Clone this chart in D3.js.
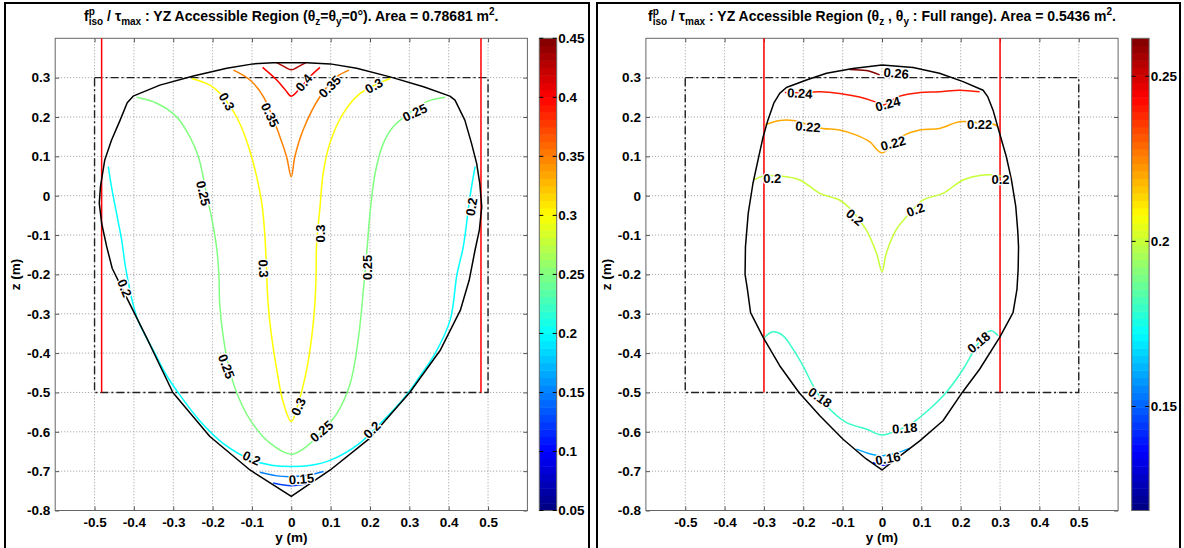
<!DOCTYPE html>
<html><head><meta charset="utf-8">
<script src="https://cdn.jsdelivr.net/npm/d3@7"></script>
<style>
body{margin:0;background:#fff;}
svg{display:block;}
text{font-family:"Liberation Sans",Arial,sans-serif;font-weight:bold;fill:#000;}
</style>
</head><body><svg id="c" width="1184" height="548"></svg>
<script>
// ---------- data ----------
const xTicks = [-0.5,-0.4,-0.3,-0.2,-0.1,0,0.1,0.2,0.3,0.4,0.5];
const yTicks = [-0.8,-0.7,-0.6,-0.5,-0.4,-0.3,-0.2,-0.1,0,0.1,0.2,0.3];
const workY = [-0.5,0.5];
const workZ = [-0.5,0.3];

const leftTitle = [["f","n"],["p","sup"],["iso","sub2"],[" / τ","n"],["max","sub"],[" : YZ Accessible Region (θ","n"],["z","sub"],["=θ","n"],["y","sub"],["=0°). Area = 0.78681 m","n"],["2","sup"],[".","n"]];
const rightTitle = [["f","n"],["p","sup"],["iso","sub2"],[" / τ","n"],["max","sub"],[" : YZ Accessible Region (θ","n"],["z","sub"],[" , θ","n"],["y","sub"],[" : Full range). Area = 0.5436 m","n"],["2","sup"],[".","n"]];

const leftCRange = [0.05,0.45];
const leftCTicks = [0.05,0.1,0.15,0.2,0.25,0.3,0.35,0.4,0.45];
const rightCRange = [0.1185,0.2615];
const rightCTicks = [0.15,0.2,0.25];

const leftRedY = [-0.482,0.482];
const rightRedY = [-0.3,0.3];

const leftBoundary = [[0,0.338],[-0.046,0.338],[-0.097,0.335],[-0.164,0.324],[-0.249,0.304],[-0.334,0.281],[-0.402,0.253],[-0.417,0.236],[-0.435,0.192],[-0.457,0.141],[-0.474,0.091],[-0.485,0.023],[-0.488,-0.019],[-0.482,-0.070],[-0.469,-0.130],[-0.455,-0.185],[-0.420,-0.256],[-0.369,-0.358],[-0.301,-0.5],[-0.207,-0.612],[-0.105,-0.697],[0,-0.764],[0.099,-0.697],[0.2,-0.616],[0.301,-0.5],[0.379,-0.392],[0.43,-0.290],[0.452,-0.215],[0.467,-0.138],[0.478,-0.087],[0.484,-0.028],[0.479,0.031],[0.471,0.082],[0.458,0.133],[0.441,0.192],[0.416,0.243],[0.403,0.253],[0.336,0.277],[0.251,0.302],[0.166,0.324],[0.099,0.335],[0.039,0.338],[0,0.338]];

const leftContours = [
 {level:0.43, pts:[[-0.037,0.338],[-0.018,0.328],[0,0.320],[0.018,0.328],[0.037,0.338]]},
 {level:0.40, pts:[[-0.073,0.326],[-0.037,0.294],[-0.016,0.270],[0,0.253],[0.022,0.273],[0.047,0.302],[0.073,0.326]]},
 {level:0.35, pts:[[-0.147,0.319],[-0.105,0.294],[-0.071,0.252],[-0.029,0.15],[-0.012,0.099],[0,0.048],[0.009,0.099],[0.03,0.167],[0.073,0.252],[0.115,0.302],[0.147,0.319]]},
 {level:0.30, pts:[[-0.253,0.298],[-0.207,0.281],[-0.177,0.256],[-0.139,0.2],[-0.114,0.141],[-0.092,0.065],[-0.075,-0.019],[-0.067,-0.104],[-0.063,-0.188],[-0.059,-0.273],[-0.050,-0.358],[-0.037,-0.442],[-0.020,-0.527],[0,-0.574],[0.018,-0.527],[0.039,-0.442],[0.052,-0.358],[0.060,-0.273],[0.063,-0.2],[0.064,-0.130],[0.073,-0.028],[0.081,0.057],[0.098,0.133],[0.132,0.209],[0.175,0.260],[0.251,0.298]]},
 {level:0.25, pts:[[-0.393,0.25],[-0.342,0.235],[-0.292,0.201],[-0.258,0.15],[-0.236,0.099],[-0.224,0.048],[-0.214,-0.005],[-0.203,-0.053],[-0.190,-0.130],[-0.184,-0.2],[-0.182,-0.273],[-0.173,-0.358],[-0.16,-0.43],[-0.139,-0.5],[-0.105,-0.569],[-0.054,-0.629],[0,-0.657],[0.039,-0.637],[0.116,-0.553],[0.150,-0.476],[0.171,-0.358],[0.184,-0.231],[0.193,-0.13],[0.2,-0.045],[0.213,0.057],[0.234,0.133],[0.259,0.175],[0.30,0.21],[0.344,0.239],[0.391,0.25]]},
 {level:0.20, pts:[[-0.465,0.074],[-0.457,0.023],[-0.444,-0.045],[-0.431,-0.113],[-0.42,-0.189],[-0.392,-0.31],[-0.347,-0.4],[-0.318,-0.455],[-0.288,-0.5],[-0.23,-0.575],[-0.17,-0.632],[-0.1,-0.672],[-0.05,-0.685],[0,-0.688],[0.05,-0.685],[0.1,-0.672],[0.17,-0.632],[0.23,-0.575],[0.29,-0.51],[0.326,-0.46],[0.366,-0.40],[0.404,-0.315],[0.421,-0.2],[0.437,-0.130],[0.454,-0.003],[0.467,0.074]]},
 {level:0.15, pts:[[-0.08,-0.703],[-0.037,-0.712],[0,-0.714],[0.048,-0.709],[0.082,-0.701]]},
 {level:0.125, pts:[[-0.046,-0.730],[0,-0.737],[0.048,-0.730]]}
];

const leftLabels = [
 {t:"0.4",y:0.032,z:0.287,a:-50},{t:"0.35",y:-0.054,z:0.205,a:65},{t:"0.35",y:0.098,z:0.277,a:-45},
 {t:"0.3",y:-0.164,z:0.239,a:60},{t:"0.3",y:0.21,z:0.279,a:-30},{t:"0.3",y:-0.071,z:-0.185,a:88},
 {t:"0.3",y:0.073,z:-0.096,a:-90},{t:"0.3",y:0.018,z:-0.536,a:-65},{t:"0.25",y:-0.224,z:0.006,a:78},
 {t:"0.25",y:0.314,z:0.211,a:-25},{t:"0.25",y:0.193,z:-0.182,a:-90},{t:"0.25",y:-0.165,z:-0.434,a:70},
 {t:"0.25",y:0.077,z:-0.599,a:-40},{t:"0.2",y:-0.424,z:-0.235,a:68},{t:"0.2",y:0.458,z:-0.028,a:-80},
 {t:"0.2",y:-0.101,z:-0.667,a:25},{t:"0.2",y:0.205,z:-0.595,a:-45},{t:"0.15",y:0.026,z:-0.72,a:-5}
];

const rightBoundary = [[0,0.332],[-0.074,0.323],[-0.141,0.311],[-0.192,0.294],[-0.243,0.275],[-0.260,0.260],[-0.275,0.235],[-0.290,0.192],[-0.302,0.150],[-0.315,0.091],[-0.328,0.031],[-0.340,-0.045],[-0.347,-0.130],[-0.348,-0.2],[-0.342,-0.238],[-0.334,-0.297],[-0.302,-0.360],[-0.260,-0.432],[-0.211,-0.5],[-0.158,-0.559],[-0.099,-0.619],[-0.040,-0.669],[0,-0.697],[0.036,-0.669],[0.096,-0.623],[0.155,-0.572],[0.204,-0.5],[0.248,-0.441],[0.299,-0.360],[0.333,-0.297],[0.343,-0.238],[0.346,-0.187],[0.347,-0.130],[0.345,-0.09],[0.340,-0.028],[0.329,0.040],[0.316,0.099],[0.299,0.158],[0.282,0.218],[0.269,0.251],[0.257,0.268],[0.206,0.290],[0.146,0.311],[0.079,0.326],[0,0.332]];

const rightContours = [
 {level:0.26, pts:[[-0.082,0.321],[-0.040,0.318],[-0.006,0.307]]},
 {level:0.24, pts:[[-0.247,0.262],[-0.209,0.262],[-0.158,0.264],[-0.108,0.260],[-0.057,0.251],[-0.019,0.239],[0,0.230],[0.045,0.253],[0.096,0.262],[0.146,0.264],[0.197,0.268],[0.248,0.264]]},
 {level:0.22, pts:[[-0.298,0.180],[-0.260,0.191],[-0.226,0.191],[-0.188,0.18],[-0.150,0.171],[-0.108,0.167],[-0.065,0.154],[-0.031,0.137],[0,0.109],[0.053,0.152],[0.096,0.167],[0.146,0.171],[0.197,0.188],[0.248,0.185],[0.282,0.182],[0.295,0.175]]},
 {level:0.20, pts:[[-0.326,0.040],[-0.302,0.050],[-0.260,0.050],[-0.209,0.040],[-0.158,0.006],[-0.108,-0.011],[-0.082,-0.032],[-0.040,-0.087],[-0.014,-0.146],[0,-0.193],[0.011,-0.146],[0.036,-0.087],[0.070,-0.045],[0.104,-0.011],[0.155,0.006],[0.206,0.040],[0.252,0.052],[0.30,0.05],[0.324,0.040]]},
 {level:0.18, pts:[[-0.298,-0.360],[-0.277,-0.346],[-0.251,-0.356],[-0.226,-0.390],[-0.201,-0.432],[-0.175,-0.483],[-0.141,-0.534],[-0.091,-0.576],[-0.040,-0.593],[0,-0.608],[0.04,-0.596],[0.079,-0.576],[0.121,-0.542],[0.163,-0.5],[0.206,-0.441],[0.231,-0.398],[0.261,-0.352],[0.278,-0.343],[0.295,-0.356]]},
 {level:0.16, pts:[[-0.065,-0.644],[-0.027,-0.657],[0,-0.661],[0.036,-0.654],[0.070,-0.642]]},
 {level:0.14, pts:[[-0.023,-0.678],[0,-0.685],[0.024,-0.678]]}
];

const rightLabels = [
 {t:"0.26",y:0.036,z:0.311,a:5},{t:"0.24",y:-0.209,z:0.260,a:3},{t:"0.24",y:0.015,z:0.233,a:-15},
 {t:"0.22",y:-0.188,z:0.175,a:5},{t:"0.22",y:0.028,z:0.133,a:-15},{t:"0.22",y:0.248,z:0.180,a:0},
 {t:"0.2",y:-0.279,z:0.044,a:0},{t:"0.2",y:-0.069,z:-0.055,a:40},{t:"0.2",y:0.085,z:-0.036,a:-20},
 {t:"0.2",y:0.301,z:0.042,a:0},{t:"0.18",y:-0.158,z:-0.513,a:35},{t:"0.18",y:0.058,z:-0.591,a:-5},
 {t:"0.18",y:0.246,z:-0.373,a:-40},{t:"0.16",y:0.015,z:-0.668,a:-10}
];

// ---------- drawing ----------
function jet(t){
  const c = v => Math.max(0, Math.min(1, v));
  const r = c(1.5 - Math.abs(4*t - 3)), g = c(1.5 - Math.abs(4*t - 2)), b = c(1.5 - Math.abs(4*t - 1));
  return d3.rgb(r*255, g*255, b*255).toString();
}
const fmt = d => String(Math.round(d*100)/100);
const svg = d3.select("#c");
const FS = 13.5;

function panel(cfg){
  const g = svg.append("g");
  g.append("rect").attr("x", cfg.frame[0]).attr("y", 3).attr("width", cfg.frame[1]-cfg.frame[0]).attr("height", 560)
    .attr("fill","none").attr("stroke","#000").attr("stroke-width",2);
  const x = d3.scaleLinear().domain([-0.6,0.6]).range([cfg.left, cfg.left+472.2]);
  const y = d3.scaleLinear().domain([-0.8,0.4]).range([510.5, 38.3]);
  const cnorm = d3.scaleLinear().domain(cfg.cRange).range([0,1]);
  const color = v => jet(cnorm(v));
  const [x0,x1] = x.range(), [y0,y1] = y.range();

  g.append("rect").attr("x",x0).attr("y",y1).attr("width",x1-x0).attr("height",y0-y1).attr("fill","#fff");
  g.append("g").selectAll("line").data(xTicks).join("line")
    .attr("x1",d=>x(d)).attr("x2",d=>x(d)).attr("y1",y1).attr("y2",y0)
    .attr("stroke","#9a9a9a").attr("stroke-width",1).attr("stroke-dasharray","1,2");
  g.append("g").selectAll("line").data(yTicks.filter(d=>d>-0.8)).join("line")
    .attr("y1",d=>y(d)).attr("y2",d=>y(d)).attr("x1",x0).attr("x2",x1)
    .attr("stroke","#9a9a9a").attr("stroke-width",1).attr("stroke-dasharray","1,2");

  const ax = g.append("g").attr("transform",`translate(0,${y0})`)
    .call(d3.axisBottom(x).tickValues(xTicks).tickFormat(fmt).tickSizeInner(-4).tickSizeOuter(0).tickPadding(7));
  const ay = g.append("g").attr("transform",`translate(${x0},0)`)
    .call(d3.axisLeft(y).tickValues(yTicks).tickFormat(fmt).tickSizeInner(-4).tickSizeOuter(0).tickPadding(5));
  const at = g.append("g").attr("transform",`translate(0,${y1})`)
    .call(d3.axisTop(x).tickValues(xTicks).tickFormat("").tickSizeInner(-4).tickSizeOuter(0));
  const ar = g.append("g").attr("transform",`translate(${x1},0)`)
    .call(d3.axisRight(y).tickValues(yTicks).tickFormat("").tickSizeInner(-4).tickSizeOuter(0));
  [ax,ay,at,ar].forEach(a=>{ a.select(".domain").remove(); a.selectAll(".tick line").attr("stroke","#555");
    a.selectAll("text").attr("font-size",FS).attr("font-family",null).style("font-weight","bold"); });
  g.append("rect").attr("x",x0).attr("y",y1).attr("width",x1-x0).attr("height",y0-y1)
    .attr("fill","none").attr("stroke","#666").attr("stroke-width",1);

  g.append("text").attr("x",(x0+x1)/2).attr("y",542).attr("text-anchor","middle").attr("font-size",FS).text("y (m)");
  g.append("text").attr("transform",`translate(${cfg.left-35},${(y0+y1)/2}) rotate(-90)`).attr("text-anchor","middle")
    .attr("font-size",FS).text("z (m)");

  g.append("rect").attr("x",x(workY[0])).attr("y",y(workZ[1])).attr("width",x(workY[1])-x(workY[0])).attr("height",y(workZ[0])-y(workZ[1]))
    .attr("fill","none").attr("stroke","#222").attr("stroke-width",1.4).attr("stroke-dasharray","8,3,2,3");
  g.append("g").selectAll("line").data(cfg.red).join("line")
    .attr("x1",d=>x(d)).attr("x2",d=>x(d)).attr("y1",y(0.4)).attr("y2",y(workZ[0]))
    .attr("stroke","#ff0000").attr("stroke-width",1.5);

  const smooth = d3.line().x(d=>x(d[0])).y(d=>y(d[1])).curve(d3.curveCatmullRom.alpha(0.5));
  const straight = d3.line().x(d=>x(d[0])).y(d=>y(d[1]));
  g.append("g").selectAll("path").data(cfg.contours).join("path")
    .attr("d",d=>smooth(d.pts)).attr("fill","none").attr("stroke",d=>color(d.level)).attr("stroke-width",1.5)
    .attr("stroke-linejoin","round");
  g.append("path").attr("d",straight(cfg.boundary)).attr("fill","none").attr("stroke","#000").attr("stroke-width",1.5)
    .attr("stroke-linejoin","round");
  g.append("g").selectAll("text").data(cfg.labels).join("text")
    .attr("transform",d=>`translate(${x(d.y)},${y(d.z)}) rotate(${d.a})`)
    .attr("text-anchor","middle").attr("dominant-baseline","central").attr("font-size",13)
    .attr("stroke","#fff").attr("stroke-width",2.5).attr("paint-order","stroke").attr("stroke-linejoin","round")
    .text(d=>d.t);

  const cb = d3.scaleLinear().domain(cfg.cRange).range([y0,y1]);
  const n = 64, bands = d3.range(n).map(i => cfg.cRange[0] + (cfg.cRange[1]-cfg.cRange[0])*i/n);
  const step = (cfg.cRange[1]-cfg.cRange[0])/n;
  const cg = g.append("g");
  cg.selectAll("rect").data(bands).join("rect")
    .attr("x",cfg.cbx).attr("width",17.4).attr("y",d=>cb(d+step)).attr("height",d=>cb(d)-cb(d+step)+0.5)
    .attr("fill",d=>jet((d+step/2-cfg.cRange[0])/(cfg.cRange[1]-cfg.cRange[0])));
  cg.append("rect").attr("x",cfg.cbx).attr("y",y1).attr("width",17.4).attr("height",y0-y1)
    .attr("fill","none").attr("stroke","#666").attr("stroke-width",1);
  const ct = cg.selectAll("g.ct").data(cfg.cTicks).join("g").attr("class","ct").attr("transform",d=>`translate(0,${cb(d)})`);
  ct.append("line").attr("x1",cfg.cbx).attr("x2",cfg.cbx+4).attr("stroke","#000");
  ct.append("line").attr("x1",cfg.cbx+13.4).attr("x2",cfg.cbx+17.4).attr("stroke","#000");
  ct.append("text").attr("x",cfg.cbx+19).attr("dy","0.35em").attr("font-size",FS).text(d=>fmt(d));

  const title = g.append("text").attr("x",(x0+x1)/2).attr("y",21).attr("text-anchor","middle").attr("font-size",14);
  let cur = 0, lastSup = null;
  cfg.title.forEach(([s,k])=>{
    const target = k==="sup" ? -6 : (k==="sub"||k==="sub2") ? 4 : 0;
    const ts = title.append("tspan").attr("dy", target-cur).text(s);
    if (k!=="n") ts.attr("font-size",10);
    if (k==="sub2" && lastSup) ts.attr("dx", -lastSup.node().getComputedTextLength());
    lastSup = k==="sup" ? ts : null;
    cur = target;
  });
  title.append("tspan").attr("dy",-cur).text("");
}

panel({frame:[5,589], left:55.2, cbx:539.3, cRange:leftCRange, cTicks:leftCTicks, red:leftRedY,
  boundary:leftBoundary, contours:leftContours, labels:leftLabels, title:leftTitle});
panel({frame:[597,1180], left:645.9, cbx:1131.7, cRange:rightCRange, cTicks:rightCTicks, red:rightRedY,
  boundary:rightBoundary, contours:rightContours, labels:rightLabels, title:rightTitle});
</script></body></html>
